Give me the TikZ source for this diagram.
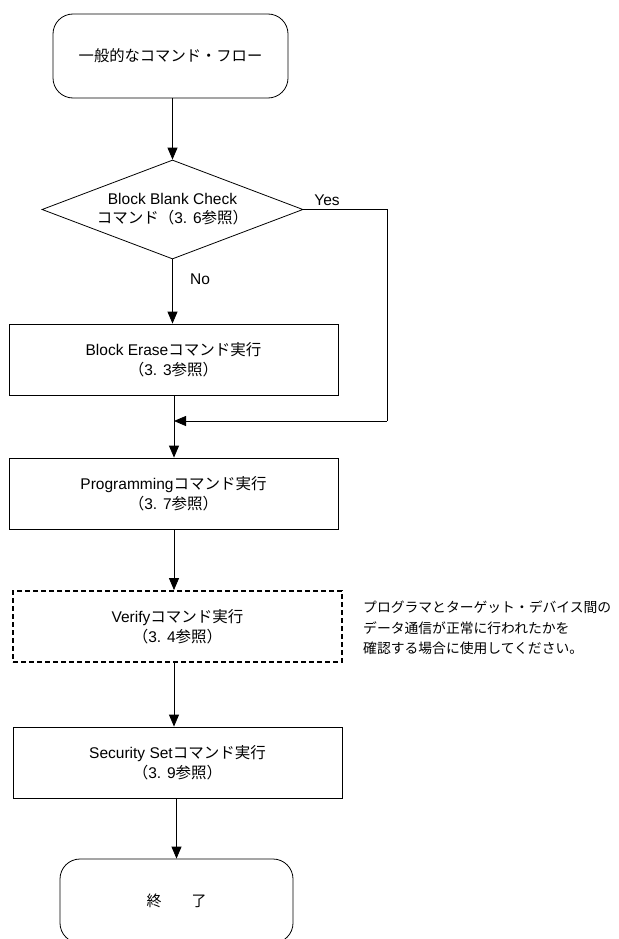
\documentclass[tikz,border=0pt]{standalone}
\usepackage{fontspec}
\setmainfont{Liberation Sans}
\newfontfamily\jp{Noto Sans CJK JP}
\usetikzlibrary{shapes.geometric,arrows.meta}
\begin{document}
\begin{tikzpicture}[x=1pt,y=-1pt,
  txt/.style={font=\fontsize{15.5}{20}\selectfont, align=center, inner sep=0pt},
  box/.style={txt, draw, line width=0.8pt, minimum width=329pt, minimum height=71pt},
  term/.style={box, rounded corners=20pt, minimum width=235pt, minimum height=84pt},
  dashbox/.style={box, line width=1.8pt, dash pattern=on 5pt off 3pt},
  arr/.style={-{Triangle[length=12pt,width=10pt]}, line width=0.8pt},
  ln/.style={line width=0.8pt}]
\useasboundingbox (0,0) rectangle (618,939);
\fill[white] (0,0) rectangle (618,939);
\begin{scope}
\clip (0,0) rectangle (618,939);
\node[term, font=\fontsize{15.3}{20}\selectfont] (start) at (170.5,56) {\jp 一般的なコマンド・フロー};
\node[draw, diamond, line width=0.8pt, minimum width=261pt, minimum height=99pt, inner sep=0pt] (dec) at (172.5,209.5) {};
\node[txt, font=\fontsize{15.5}{18.5}\selectfont] (dectext) at (172.5,209) {Block Blank Check\\{\jp コマンド（}3. 6{\jp 参照）}};
\node[box] (erase) at (173.5,359.5) {Block Erase{\jp コマンド実行}\\{\jp （}3. 3{\jp 参照）}};
\node[box] (prog) at (173.5,493.5) {Programming{\jp コマンド実行}\\{\jp （}3. 7{\jp 参照）}};
\node[dashbox] (verify) at (177.5,626.5) {Verify{\jp コマンド実行}\\{\jp （}3. 4{\jp 参照）}};
\node[box] (sec) at (177.5,762.5) {Security Set{\jp コマンド実行}\\{\jp （}3. 9{\jp 参照）}};
\node[term, minimum width=233pt, font=\fontsize{15}{20}\selectfont] (end) at (176.5,901) {\jp 終　　了};
\node[txt, anchor=west, align=left, font=\fontsize{13.8}{20.5}\selectfont\jp] (note) at (363,628) {プログラマとターゲット・デバイス間の\\データ通信が正常に行われたかを\\確認する場合に使用してください。};
\node[txt, anchor=center] (yes) at (327,200) {Yes};
\node[txt, anchor=center] (no) at (200,279) {No};
\coordinate (yr) at (387,421);
\coordinate (merge) at (174,421);
\draw[arr] (start.south -| dec.north) -- (dec.north);
\draw[arr] (dec.south) -- (dec.south |- erase.north);
\draw[ln] (dec.east) -| (yr);
\draw[arr] (yr) -- (merge);
\draw[arr] (erase.south -| merge) -- (merge |- prog.north);
\draw[arr] (prog.south -| merge) -- (merge |- verify.north);
\draw[arr] (verify.south -| merge) -- (merge |- sec.north);
\draw[arr] (sec.south -| end.north) -- (end.north);
\end{scope}
\end{tikzpicture}
\end{document}
